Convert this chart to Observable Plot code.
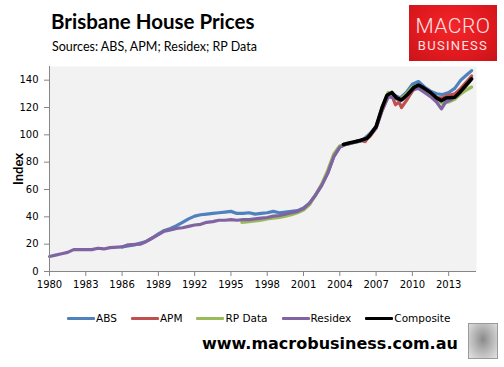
<!DOCTYPE html>
<html>
<head>
<meta charset="utf-8">
<script src="https://cdn.jsdelivr.net/npm/d3@7"></script>
<script src="https://cdn.jsdelivr.net/npm/@observablehq/plot@0.6"></script>
<style>
  html, body { margin: 0; padding: 0; background: #fff; }
  #page { position: relative; width: 504px; height: 367px; overflow: hidden; background: #fff; }
  #chart { position: absolute; left: 0; top: 0; }
  .title { position: absolute; left: 51px; top: 9px; font-family: Lato, "Open Sans", sans-serif; font-weight: 700; font-size: 20.5px; color: #000; white-space: nowrap; }
  .subtitle { position: absolute; left: 52px; top: 39px; font-family: Lato, "Open Sans", sans-serif; font-size: 12.5px; color: #000; white-space: nowrap; }
  .logo { position: absolute; left: 409px; top: 5px; width: 88px; height: 56px; background: radial-gradient(ellipse at 50% 40%, #f2262a 0%, #e21a1f 55%, #c8141a 100%); color: #fbe3e3; text-align: center; font-family: Roboto, "DejaVu Sans", sans-serif; }
  .logo .l1 { position: absolute; left: 0; right: 0; top: 9px; font-size: 21px; font-weight: 300; letter-spacing: 0.5px; line-height: 24px; }
  .logo .l2 { position: absolute; left: 0; right: 0; top: 33px; font-size: 13px; font-weight: 400; letter-spacing: 1.3px; line-height: 16px; }
  .ylab { position: absolute; left: 2px; top: 169px; transform: translate(0, -50%) rotate(-90deg); transform-origin: center; font-family: Lato, sans-serif; font-weight: 700; font-size: 13px; color: #000; }
  #legend { position: absolute; left: 67px; top: 312px; display: flex; gap: 14px; font-family: "DejaVu Sans", sans-serif; font-size: 10.5px; color: #000; }
  #legend .item { display: flex; align-items: center; }
  #legend .sw { width: 28px; height: 3px; margin-right: 1px; border-radius: 1px; }
  .footer { position: absolute; left: 202px; top: 334px; font-family: "DejaVu Sans", Verdana, sans-serif; font-weight: 700; font-size: 16px; color: #000; white-space: nowrap; }
  .wolf { position: absolute; left: 468px; top: 323px; width: 28px; height: 34px; border: 1px solid #9a9a9a; background: radial-gradient(ellipse at 50% 45%, #8a8a8a 0%, #b5b5b5 45%, #e4e4e4 100%); }
</style>
</head>
<body>
<div id="page">
  <div id="chart"></div>
  <div class="title">Brisbane House Prices</div>
  <div class="subtitle">Sources: ABS, APM; Residex; RP Data</div>
  <div class="logo"><div class="l1">MACRO</div><div class="l2">BUSINESS</div></div>
  <div class="ylab">Index</div>
  <div id="legend"></div>
  <div class="footer">www.macrobusiness.com.au</div>
  <div class="wolf"></div>
</div>
<script>
// ---- Data ----
const seriesNames = ["ABS", "APM", "RP Data", "Residex", "Composite"];
const seriesColors = ["#4f81bd", "#c0504d", "#9bbb59", "#8064a2", "#000000"];

const absYears  = [1986.0,1987.0,1988.0,1988.5,1989.0,1989.5,1990.0,1990.5,1991.0,1991.5,1992.0,1992.5,1993.0,1993.5,1994.0,1994.5,1995.0,1995.5,1996.0,1996.5,1997.0,1997.5,1998.0,1998.5,1999.0,1999.5,2000.0,2000.5,2001.0,2001.5,2002.0,2002.5,2003.0,2003.5,2004.0,2004.5,2005.0,2005.5,2006.0,2006.5,2007.0,2007.5,2008.0,2008.5,2009.0,2009.5,2010.0,2010.5,2011.0,2011.5,2012.0,2012.5,2013.0,2013.5,2014.0,2014.5,2014.9];
const absValues = [18,19.5,22,24.5,27.5,30,31.5,33.5,36,38.5,40.5,41.5,42,42.5,43,43.5,44,42.5,42.5,43,42,42.5,43,44,43,43.5,44,44.5,46.5,50,56,63,72,84,91,93,94,95.5,97,101,106,120,130,129,127,131,137,139,135,132,130,129.5,131,134,140,144,147];

const apmYears  = [2004.3,2004.75,2005.25,2005.75,2006.1,2006.25,2006.5,2007.0,2007.5,2008.0,2008.3,2008.6,2008.9,2009.1,2009.5,2010.0,2010.5,2011.0,2011.5,2012.0,2012.5,2013.0,2013.5,2014.0,2014.5,2014.9];
const apmValues = [93,93.5,95,96,95,97,99,105,118,128,129,122,124,120,125,132,136,134,130,127,127,129,130,134,139,143];

const rpYears   = [1995.9,1996.5,1997.0,1997.5,1998.0,1998.5,1999.0,1999.5,2000.0,2000.5,2001.0,2001.5,2002.0,2002.5,2003.0,2003.5,2004.0,2004.5,2005.0,2005.5,2006.0,2006.5,2007.0,2007.5,2008.0,2008.5,2009.0,2009.5,2010.0,2010.5,2011.0,2011.5,2012.0,2012.5,2013.0,2013.5,2014.0,2014.5,2014.9];
const rpValues  = [36,36.5,37,37.5,38.5,39,39.5,40.5,41.5,43,45,49,56,64,74,86,92,93,94,95,96,100,106,120,131,128,126,130,135,136,133,129,126,123,124,126,130,133,135];

const resYears  = [1980.0,1980.5,1981.0,1981.5,1982.0,1983.0,1983.5,1984.0,1984.5,1985.0,1986.0,1986.5,1987.5,1988.0,1988.5,1989.0,1989.5,1990.0,1990.5,1991.0,1991.5,1992.0,1992.5,1993.0,1993.5,1994.0,1994.5,1995.0,1995.5,1996.0,1996.5,1997.0,1997.5,1998.0,1998.5,1999.0,1999.5,2000.0,2000.5,2001.0,2001.5,2002.0,2002.5,2003.0,2003.5,2004.0,2004.5,2005.0,2005.5,2006.0,2006.5,2007.0,2007.5,2008.0,2008.5,2009.0,2009.5,2010.0,2010.5,2011.0,2011.5,2012.0,2012.4,2012.75,2013.25,2013.75,2014.25,2014.75];
const resValues = [11,12,13,14,16,16,16,17,16.5,17.5,18,19.5,20,22,24.5,27,29.5,30.5,31.5,32,33,34,34.5,36,36.5,37.5,37.5,38,37.5,38,38,38.5,39,39.5,40.5,41,42,43,44,46,50,56,63,72,84,91,93,94,95,96,100,105,118,128,127,125,128,133,134,131,128,124,119,124,126,129,134,139];

const compYears  = [2004.3,2004.75,2005.25,2005.75,2006.25,2006.5,2007.0,2007.5,2007.9,2008.3,2008.7,2009.1,2009.6,2010.1,2010.5,2010.9,2011.5,2012.0,2012.4,2012.8,2013.5,2013.9,2014.5,2014.9];
const compValues = [93,94,95,96,97.5,100,106,120,129,131,127,125.5,129.5,134.5,136.5,134.5,131,127,125,127,127.5,131,137,141];

const xTickYears = [1980,1983,1986,1989,1992,1995,1998,2001,2004,2007,2010,2013];
const yTickValues = [0,20,40,60,80,100,120,140];

// ---- Build table ----
const allYears = [absYears, apmYears, rpYears, resYears, compYears];
const allValues = [absValues, apmValues, rpValues, resValues, compValues];
const rows = [];
seriesNames.forEach((name, i) => {
  allYears[i].forEach((yr, j) => rows.push({series: name, year: yr, value: allValues[i][j]}));
});

const axisColor = "#868686";
const chart = Plot.plot({
  width: 504,
  height: 300,
  marginLeft: 49,
  marginRight: 28,
  marginTop: 66,
  marginBottom: 29,
  style: {fontFamily: "'DejaVu Sans', Verdana, sans-serif", fontSize: "10px", color: "#000", background: "transparent", overflow: "visible"},
  x: {domain: [1980, 2015.3]},
  y: {domain: [0, 150]},
  color: {domain: seriesNames, range: seriesColors},
  marks: [
    Plot.frame({fill: "#f2f2f2", stroke: null}),
    ...seriesNames.map(name => Plot.line(rows.filter(r => r.series === name), {
      x: "year", y: "value", stroke: "series", strokeWidth: name === "Composite" ? 3.6 : 3.2, strokeLinejoin: "round", strokeLinecap: "round"
    })),
    Plot.ruleX([1980], {y1: 0, y2: 150, stroke: axisColor}),
    Plot.ruleY([0], {stroke: axisColor}),
    Plot.axisX({ticks: xTickYears, tickFormat: d => String(d), tickSize: 5, tickPadding: 4, stroke: axisColor, label: null, fill: "#000"}),
    Plot.axisY({ticks: yTickValues, tickSize: 5, tickPadding: 6, stroke: axisColor, label: null, fill: "#000"})
  ]
});
document.getElementById("chart").appendChild(chart);

// ---- Legend ----
const legend = document.getElementById("legend");
seriesNames.forEach((name, i) => {
  const item = document.createElement("div");
  item.className = "item";
  const sw = document.createElement("span");
  sw.className = "sw";
  sw.style.background = seriesColors[i];
  const t = document.createElement("span");
  t.textContent = name;
  item.appendChild(sw);
  item.appendChild(t);
  legend.appendChild(item);
});
</script>
</body>
</html>
